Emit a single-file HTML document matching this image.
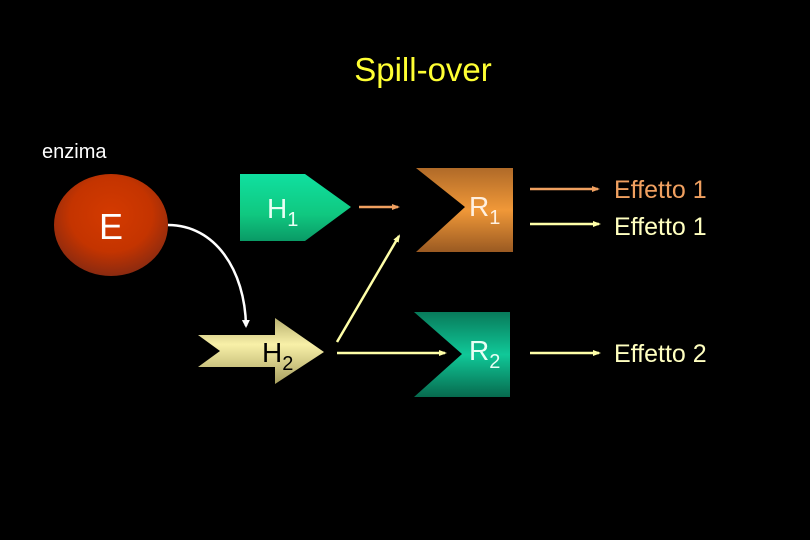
<!DOCTYPE html>
<html><head><meta charset="utf-8"><style>
html,body{margin:0;padding:0;background:#000;}
svg{display:block;font-family:"Liberation Sans",Arial,sans-serif;}
</style></head><body>
<svg width="810" height="540" viewBox="0 0 810 540" xmlns="http://www.w3.org/2000/svg">
<defs>
<radialGradient id="gE" cx="0.5" cy="0.4" r="0.6">
<stop offset="0" stop-color="#d43a00"/><stop offset="0.6" stop-color="#c43400"/><stop offset="1" stop-color="#8a2a10"/>
</radialGradient>
<linearGradient id="gH1" x1="0" y1="0" x2="0" y2="1">
<stop offset="0" stop-color="#10e0a0"/><stop offset="0.6" stop-color="#10c880"/><stop offset="1" stop-color="#0a9a66"/>
</linearGradient>
<linearGradient id="gH2" x1="0" y1="0" x2="0" y2="1">
<stop offset="0" stop-color="#b8b070"/><stop offset="0.4" stop-color="#f8f0a8"/><stop offset="1" stop-color="#a8a060"/>
</linearGradient>
<linearGradient id="gR1" x1="0" y1="0" x2="0" y2="1">
<stop offset="0" stop-color="#b06a28"/><stop offset="0.5" stop-color="#f09838"/><stop offset="1" stop-color="#9a5a22"/>
</linearGradient>
<linearGradient id="gR2" x1="0" y1="0" x2="0" y2="1">
<stop offset="0" stop-color="#087a5a"/><stop offset="0.5" stop-color="#10c898"/><stop offset="1" stop-color="#076a4e"/>
</linearGradient>
<marker id="aW" markerWidth="8" markerHeight="8" refX="6" refY="4" orient="auto" markerUnits="userSpaceOnUse"><path d="M0,0 L8,4 L0,8 z" fill="#fff"/></marker>
<marker id="aO" markerWidth="8" markerHeight="8" refX="6" refY="4" orient="auto" markerUnits="userSpaceOnUse"><path d="M0,1 L8,4 L0,7 z" fill="#f0a060"/></marker>
<marker id="aY" markerWidth="8" markerHeight="8" refX="6" refY="4" orient="auto" markerUnits="userSpaceOnUse"><path d="M0,1 L8,4 L0,7 z" fill="#ffffa8"/></marker>
</defs>
<rect width="810" height="540" fill="#000"/>
<text x="423" y="81" text-anchor="middle" font-size="33" fill="#ffff33">Spill-over</text>
<text x="42" y="158" font-size="20" fill="#fff">enzima</text>

<ellipse cx="111" cy="225" rx="57" ry="51" fill="url(#gE)"/>
<text x="111" y="239" text-anchor="middle" font-size="36" fill="#fff">E</text>

<path d="M168,225 C215,225 245,270 246,326" fill="none" stroke="#fff" stroke-width="2.5" marker-end="url(#aW)"/>

<polygon points="240,174 305,174 351,207 305,241 240,241" fill="url(#gH1)"/>
<text x="267" y="218" font-size="28" fill="#e8fff4">H<tspan font-size="20" dy="8">1</tspan></text>

<polygon points="198,335 275,335 275,318 324,352 275,384 275,367 198,367 220,351" fill="url(#gH2)"/>
<text x="262" y="362" font-size="28" fill="#000">H<tspan font-size="20" dy="8">2</tspan></text>

<polygon points="416,168 513,168 513,252 416,252 465,207" fill="url(#gR1)"/>
<text x="469" y="216" font-size="28" fill="#fff0e0">R<tspan font-size="20" dy="8">1</tspan></text>
<polygon points="414,312 510,312 510,397 414,397 462,354" fill="url(#gR2)"/>
<text x="469" y="360" font-size="28" fill="#e8fff4">R<tspan font-size="20" dy="8">2</tspan></text>

<line x1="359" y1="207" x2="398" y2="207" stroke="#f0a060" stroke-width="2.5" marker-end="url(#aO)"/>
<line x1="337" y1="342" x2="399" y2="236" stroke="#ffffa8" stroke-width="2.5" marker-end="url(#aY)"/>
<line x1="337" y1="353" x2="445" y2="353" stroke="#ffffa8" stroke-width="2.5" marker-end="url(#aY)"/>

<line x1="530" y1="189" x2="598" y2="189" stroke="#f0a060" stroke-width="2.5" marker-end="url(#aO)"/>
<line x1="530" y1="224" x2="599" y2="224" stroke="#ffffa8" stroke-width="2.5" marker-end="url(#aY)"/>
<line x1="530" y1="353" x2="599" y2="353" stroke="#ffffa8" stroke-width="2.5" marker-end="url(#aY)"/>

<text x="614" y="198" font-size="25" fill="#f0a060">Effetto 1</text>
<text x="614" y="235" font-size="25" fill="#ffffc0">Effetto 1</text>
<text x="614" y="362" font-size="25" fill="#ffffc0">Effetto 2</text>
</svg>
</body></html>
